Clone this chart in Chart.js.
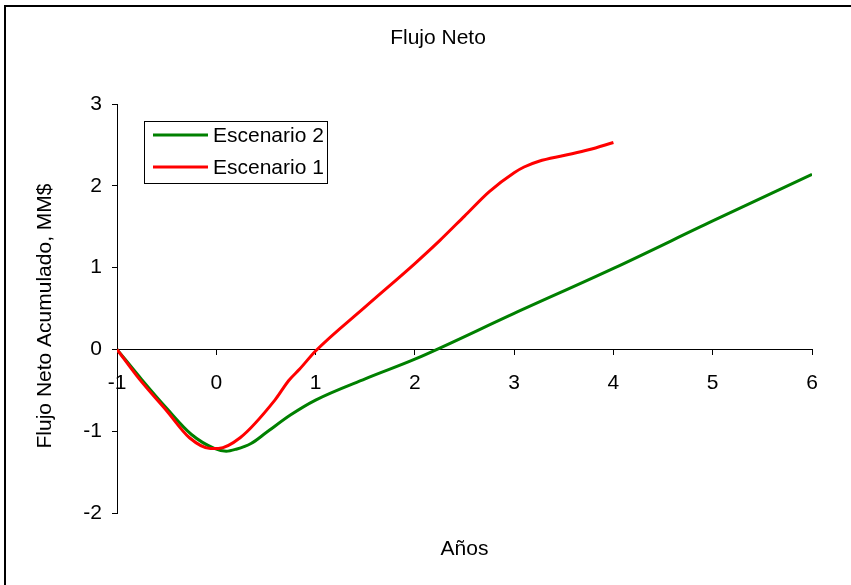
<!DOCTYPE html>
<html>
<head>
<meta charset="utf-8">
<script src="https://cdn.jsdelivr.net/npm/chart.js@4/dist/chart.umd.min.js"></script>
<style>
    body { margin: 0; background: #fff; }
    #contenedor { position: absolute; left: 0; top: 0; width: 851px; height: 585px; }
    #marco { position: absolute; left: 4px; top: 5px; width: 851px; height: 585px;
             border-top: 2px solid #000; border-left: 2px solid #000; pointer-events: none; }
</style>
</head>
<body>
<div id="contenedor"><canvas id="graficoFlujo"></canvas></div>
<div id="marco"></div>
<script>
// Datos (años, flujo neto acumulado en MM$)
const anosEsc1 = [-1, -0.77, -0.5, -0.27, -0.06, 0.02, 0.24, 0.59, 0.73, 0.84, 1, 1.5, 2, 2.25, 2.5, 2.75, 3, 3.1, 3.25, 3.5, 3.75, 4];
const flujoEsc1 = [0, -0.37, -0.75, -1.08, -1.21, -1.21, -1.08, -0.62, -0.38, -0.24, -0.02, 0.52, 1.05, 1.33, 1.63, 1.93, 2.16, 2.23, 2.30, 2.37, 2.44, 2.53];

const anosEsc2 = [-1, -0.75, -0.5, -0.25, -0.02, 0.1, 0.2, 0.35, 0.5, 0.75, 1, 1.5, 2, 3, 4, 5, 6];
const flujoEsc2 = [0, -0.37, -0.72, -1.04, -1.21, -1.245, -1.22, -1.15, -1.02, -0.8, -0.62, -0.36, -0.12, 0.44, 0.99, 1.57, 2.14];

const nombresSeries = ['Escenario 1', 'Escenario 2'];
const coloresSeries = ['#ff0000', '#008000'];

const tituloGrafico = 'Flujo Neto';
const tituloEjeX = 'Años';
const tituloEjeY = 'Flujo Neto Acumulado, MM$';

const fuente = "'Liberation Sans', Arial, sans-serif";

function aPuntos(xs, ys) {
    return xs.map((x, i) => ({ x: x, y: ys[i] }));
}

// Textos y leyenda dibujados a mano (estilo Excel)
const pluginTextos = {
    id: 'textos',
    afterDraw(chart) {
        const ctx = chart.ctx;
        const area = chart.chartArea;
        ctx.save();
        ctx.fillStyle = '#000';
        ctx.textAlign = 'center';
        ctx.textBaseline = 'middle';
        ctx.font = '21px ' + fuente;
        ctx.fillText(tituloGrafico, 438, 38);
        ctx.fillText(tituloEjeX, (area.left + area.right) / 2, 549);
        ctx.translate(45, 316);
        ctx.rotate(-Math.PI / 2);
        ctx.fillText(tituloEjeY, 0, 0);
        ctx.restore();

        // leyenda: Escenario 2 arriba, Escenario 1 abajo
        ctx.save();
        ctx.strokeStyle = '#000';
        ctx.lineWidth = 1;
        ctx.strokeRect(144.5, 121.5, 183, 62);
        const orden = [1, 0];
        orden.forEach((idx, fila) => {
            const ds = chart.data.datasets[idx];
            const y = 135 + fila * 32;
            ctx.strokeStyle = ds.borderColor;
            ctx.lineWidth = 3;
            ctx.beginPath();
            ctx.moveTo(153, y);
            ctx.lineTo(208, y);
            ctx.stroke();
            ctx.fillStyle = '#000';
            ctx.font = '21px ' + fuente;
            ctx.textAlign = 'left';
            ctx.textBaseline = 'middle';
            ctx.fillText(ds.label, 213, y + 1);
        });
        ctx.restore();
    }
};

const datasets = [
    {
        label: nombresSeries[0],
        data: aPuntos(anosEsc1, flujoEsc1),
        borderColor: coloresSeries[0],
        backgroundColor: coloresSeries[0],
        borderWidth: 3,
        pointRadius: 0,
        showLine: true,
        cubicInterpolationMode: 'monotone'
    },
    {
        label: nombresSeries[1],
        data: aPuntos(anosEsc2, flujoEsc2),
        borderColor: coloresSeries[1],
        backgroundColor: coloresSeries[1],
        borderWidth: 3,
        pointRadius: 0,
        showLine: true,
        cubicInterpolationMode: 'monotone'
    }
];

const ctx = document.getElementById('graficoFlujo').getContext('2d');
const grafico = new Chart(ctx, {
    type: 'scatter',
    data: { datasets: datasets },
    options: {
        responsive: true,
        maintainAspectRatio: false,
        animation: false,
        layout: { padding: { top: 104, right: 39, bottom: 72, left: 0 } },
        plugins: {
            legend: { display: false },
            title: { display: false },
            tooltip: { enabled: false }
        },
        scales: {
            x: {
                type: 'linear',
                position: { y: 0 },
                min: -1,
                max: 6,
                ticks: { stepSize: 1, color: '#000', padding: 16, font: { size: 21, family: fuente } },
                grid: { drawOnChartArea: false, drawTicks: true, tickLength: 5, color: '#000' },
                border: { display: true, color: '#000', width: 1 }
            },
            y: {
                type: 'linear',
                position: 'left',
                min: -2,
                max: 3,
                afterFit(scale) { scale.width = 117; },
                ticks: { stepSize: 1, color: '#000', padding: 10, font: { size: 21, family: fuente } },
                grid: { drawOnChartArea: false, drawTicks: true, tickLength: 5, color: '#000' },
                border: { display: true, color: '#000', width: 1 }
            }
        }
    },
    plugins: [pluginTextos]
});
</script>
</body>
</html>
